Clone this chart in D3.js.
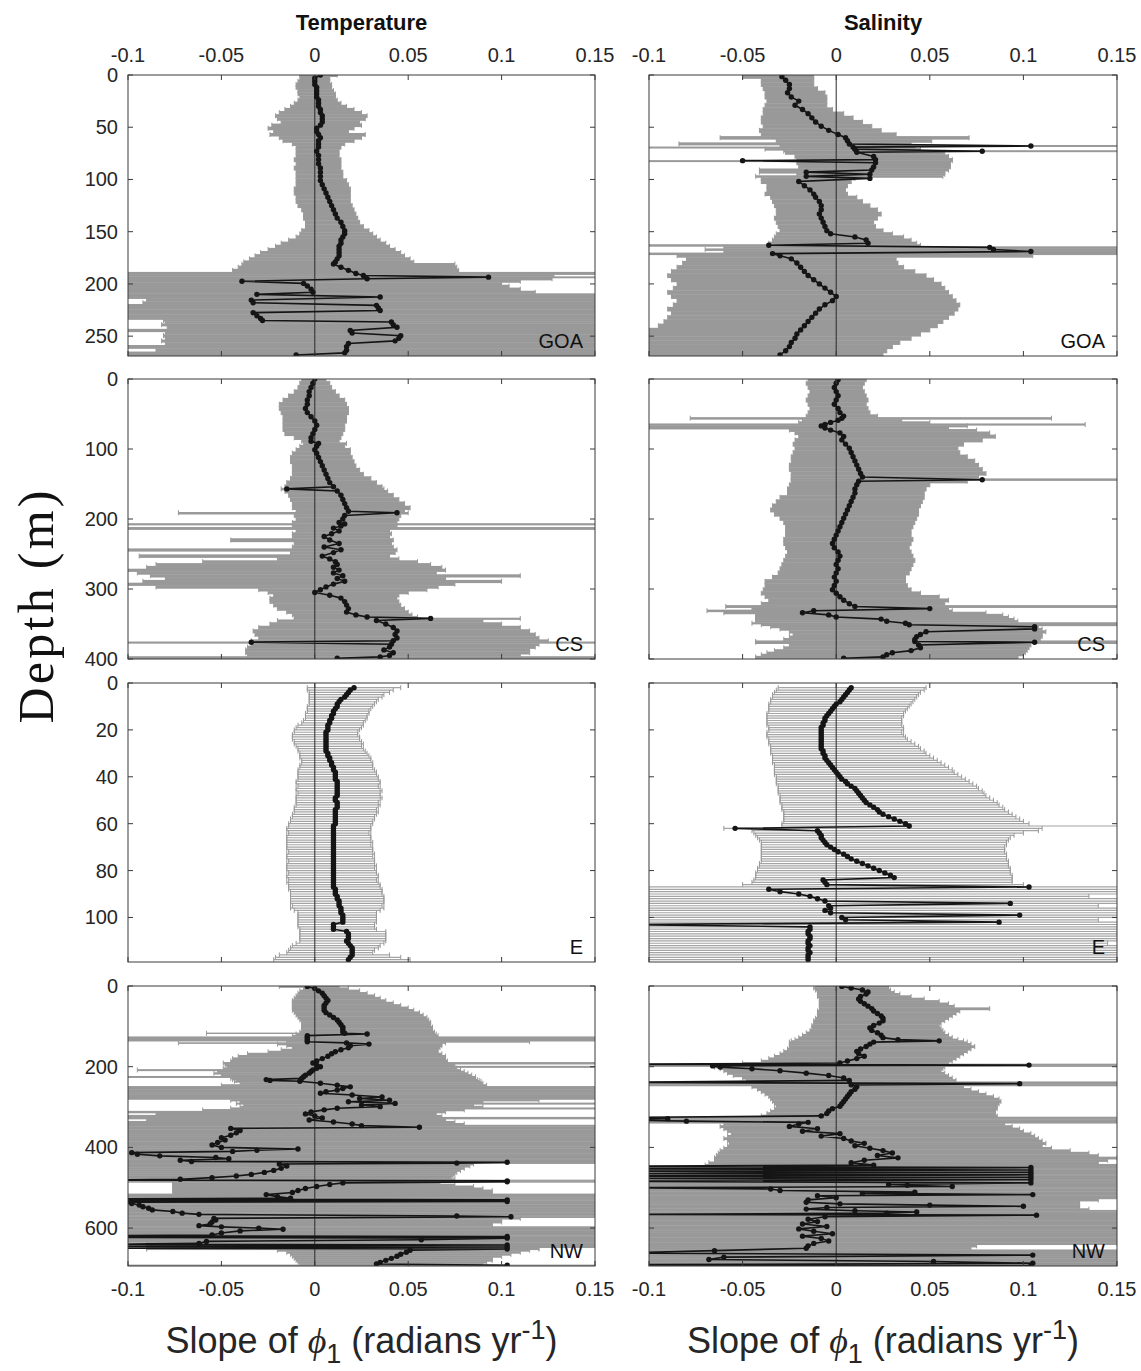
<!DOCTYPE html>
<html>
<head>
<meta charset="utf-8">
<script src="https://cdn.jsdelivr.net/npm/d3@7"></script>
<style>
body { margin: 0; background: #fff; }
svg text { font-family: "Liberation Sans", Arial, sans-serif; fill: #262626; }
</style>
</head>
<body>
<svg id="fig" width="1141" height="1371"></svg>
<script>
// each row: [depth (m), slope of phi1, lower bound, upper bound]
var tempGOA = [
[0,0.003,-0.008,0.012],[3,0.000,-0.008,0.008],[6,0.000,-0.009,0.008],[9,0.000,-0.010,0.009],
[12,0.001,-0.010,0.009],[15,0.001,-0.009,0.010],[18,0.001,-0.009,0.011],[21,0.001,-0.008,0.011],
[24,0.002,-0.009,0.012],[27,0.002,-0.011,0.014],[30,0.002,-0.013,0.017],[33,0.003,-0.016,0.021],
[36,0.003,-0.019,0.025],[39,0.004,-0.021,0.028],[42,0.004,-0.020,0.027],[45,0.004,-0.018,0.024],
[48,0.003,-0.023,0.025],[51,0.001,-0.025,0.021],[54,0.001,-0.022,0.018],[57,0.002,-0.024,0.027],
[60,0.003,-0.019,0.025],[63,0.002,-0.017,0.021],[66,0.002,-0.012,0.016],[69,0.002,-0.010,0.014],
[73,0.001,-0.010,0.013],[77,0.002,-0.010,0.013],[81,0.002,-0.011,0.014],[85,0.002,-0.010,0.014],
[89,0.003,-0.011,0.014],[93,0.003,-0.010,0.015],[97,0.003,-0.010,0.015],[101,0.003,-0.010,0.017],
[105,0.004,-0.010,0.018],[109,0.005,-0.011,0.019],[113,0.006,-0.011,0.019],[117,0.007,-0.010,0.019],
[121,0.008,-0.010,0.019],[125,0.009,-0.009,0.020],[129,0.010,-0.007,0.021],[133,0.011,-0.006,0.022],
[137,0.012,-0.006,0.023],[141,0.014,-0.005,0.024],[145,0.015,-0.005,0.026],[149,0.016,-0.007,0.029],
[152,0.016,-0.008,0.031],[155,0.015,-0.010,0.033],[158,0.014,-0.014,0.035],[161,0.014,-0.018,0.038],
[164,0.013,-0.021,0.040],[167,0.013,-0.025,0.043],[170,0.013,-0.029,0.046],[173,0.013,-0.032,0.048],
[176,0.012,-0.035,0.051],[179,0.011,-0.038,0.053],[181,0.010,-0.039,0.075],[184,0.014,-0.041,0.076],
[187,0.018,-0.044,0.077],[190,0.022,-0.110,0.160],[192,0.026,-0.110,0.128],[193.5,0.093,-0.110,0.160],
[195,0.028,-0.110,0.127],[197.5,-0.039,-0.110,0.110],[199.5,-0.006,-0.110,0.100],[202,-0.004,-0.110,0.104],
[205,-0.002,-0.110,0.110],[208,-0.001,-0.110,0.118],[210,-0.031,-0.110,0.160],[212.5,0.035,-0.110,0.160],
[215.5,-0.034,-0.090,0.160],[218,-0.033,-0.092,0.160],[220.5,0.033,-0.110,0.160],[223,0.034,-0.110,0.160],
[225.5,0.035,-0.110,0.160],[227.5,-0.033,-0.110,0.160],[230.5,-0.031,-0.110,0.160],[233,-0.029,-0.110,0.160],
[235,-0.028,-0.081,0.160],[236.5,0.041,-0.080,0.160],[239,0.042,-0.082,0.160],[241.5,0.044,-0.079,0.160],
[244.5,0.019,-0.110,0.160],[247,0.020,-0.080,0.160],[249.5,0.046,-0.081,0.160],[252,0.045,-0.080,0.160],
[254.5,0.043,-0.082,0.160],[257,0.018,-0.080,0.160],[260,0.017,-0.110,0.160],[263.5,0.017,-0.085,0.160],
[266,0.016,-0.110,0.160],[268,-0.010,-0.110,0.160]
];

var tempCS = [
[0,0.000,-0.007,0.006],[6,-0.001,-0.008,0.008],[12,-0.002,-0.009,0.009],[18,-0.003,-0.011,0.011],
[24,-0.003,-0.014,0.013],[30,-0.004,-0.017,0.016],[36,-0.004,-0.019,0.017],[42,-0.005,-0.019,0.018],
[48,-0.004,-0.018,0.018],[54,-0.002,-0.017,0.017],[60,0.000,-0.017,0.017],[66,0.001,-0.017,0.016],
[72,0.000,-0.017,0.016],[78,-0.001,-0.016,0.015],[84,-0.002,-0.011,0.014],[89,-0.002,-0.007,0.013],
[92,0.002,-0.006,0.017],[96,0.001,-0.008,0.016],[101,0.000,-0.010,0.019],[106,0.001,-0.012,0.019],
[112,0.002,-0.013,0.020],[118,0.003,-0.013,0.021],[124,0.004,-0.012,0.022],[130,0.005,-0.012,0.024],
[136,0.006,-0.012,0.026],[142,0.007,-0.013,0.030],[148,0.008,-0.015,0.033],[154,0.010,-0.016,0.036],
[157,-0.015,-0.018,0.037],[160,0.012,-0.016,0.039],[166,0.014,-0.014,0.042],[172,0.015,-0.013,0.045],
[178,0.016,-0.012,0.048],[184,0.017,-0.012,0.051],[189,0.018,-0.010,0.048],[191,0.044,-0.073,0.050],
[195,0.016,-0.011,0.046],[200,0.015,-0.010,0.045],[205,0.013,-0.012,0.044],[207,0.016,-0.110,0.160],
[210,0.014,-0.012,0.044],[213,0.010,-0.110,0.160],[217,0.013,-0.010,0.040],[221,0.009,-0.012,0.041],
[225,0.005,-0.012,0.040],[230,0.008,-0.045,0.042],[235,0.013,-0.011,0.041],[240,0.005,-0.012,0.042],
[244,0.014,-0.110,0.044],[248,0.010,-0.013,0.043],[253,0.004,-0.094,0.040],[257,0.008,-0.020,0.045],
[261,0.011,-0.060,0.055],[265,0.012,-0.085,0.062],[269,0.010,-0.090,0.068],[273,0.013,-0.110,0.070],
[277,0.010,-0.095,0.065],[281,0.015,-0.088,0.110],[285,0.012,-0.080,0.070],[289,0.016,-0.092,0.100],
[293,0.010,-0.110,0.075],[297,0.006,-0.085,0.066],[301,0.003,-0.030,0.060],[305,0.000,-0.025,0.050],
[309,0.008,-0.022,0.045],[313,0.014,-0.024,0.044],[318,0.016,-0.024,0.045],[323,0.017,-0.022,0.046],
[328,0.018,-0.020,0.048],[333,0.017,-0.015,0.050],[337,0.022,-0.012,0.052],[340,0.028,-0.011,0.055],
[342,0.062,-0.011,0.110],[345,0.033,-0.020,0.090],[350,0.038,-0.024,0.100],[355,0.042,-0.030,0.110],
[360,0.044,-0.033,0.115],[365,0.043,-0.032,0.118],[370,0.044,-0.030,0.120],[374,0.042,-0.034,0.125],
[376,-0.034,-0.110,0.160],[379,0.041,-0.034,0.120],[383,0.040,-0.036,0.118],[387,0.037,-0.037,0.115],
[391,0.042,-0.037,0.115],[395,0.040,-0.036,0.110],[397,0.035,-0.110,0.160],[399,0.012,-0.110,0.160]
];

var tempE = [
[2,.021,-.004,.046],[3,.019,-.004,.042],[4,.018,-.003,.040],[5,.017,-.003,.037],[6,.016,-.003,.036],
[7,.014,-.003,.034],[8,.013,-.003,.033],[9,.012,-.003,.032],[10,.012,-.004,.031],[11,.011,-.004,.030],
[12,.010,-.004,.029],[13,.010,-.005,.029],[14,.009,-.005,.028],[15,.009,-.005,.028],[16,.008,-.006,.027],
[17,.008,-.007,.026],[18,.007,-.009,.026],[19,.007,-.010,.025],[20,.007,-.011,.024],[21,.006,-.011,.023],
[22,.006,-.012,.023],[23,.006,-.012,.024],[24,.006,-.012,.024],[25,.006,-.011,.025],[26,.006,-.011,.026],
[27,.006,-.010,.025],[28,.006,-.009,.026],[29,.006,-.009,.027],[30,.007,-.008,.028],[31,.007,-.008,.029],
[32,.008,-.008,.030],[33,.008,-.007,.030],[34,.009,-.007,.031],[35,.009,-.008,.031],[36,.010,-.008,.031],
[37,.010,-.009,.032],[38,.011,-.009,.033],[39,.011,-.009,.033],[40,.011,-.009,.034],[41,.011,-.009,.034],
[42,.012,-.010,.035],[43,.012,-.010,.035],[44,.012,-.009,.034],[45,.012,-.010,.035],[46,.012,-.010,.036],
[47,.012,-.009,.035],[48,.012,-.010,.035],[49,.011,-.010,.036],[50,.011,-.010,.035],[51,.012,-.010,.034],
[52,.012,-.010,.035],[53,.012,-.011,.034],[54,.011,-.011,.033],[55,.011,-.011,.034],[56,.011,-.012,.033],
[57,.011,-.012,.032],[58,.011,-.013,.032],[59,.011,-.013,.031],[60,.011,-.014,.031],[61,.010,-.014,.030],
[62,.010,-.015,.030],[63,.010,-.015,.030],[64,.010,-.014,.029],[65,.010,-.015,.030],[66,.010,-.015,.030],
[67,.010,-.015,.030],[68,.010,-.015,.031],[69,.010,-.015,.030],[70,.010,-.015,.031],[71,.010,-.015,.031],
[72,.010,-.014,.031],[73,.010,-.015,.032],[74,.010,-.015,.031],[75,.010,-.015,.032],[76,.010,-.014,.032],
[77,.010,-.015,.032],[78,.010,-.015,.033],[79,.010,-.015,.032],[80,.010,-.015,.033],[81,.010,-.014,.033],
[82,.010,-.015,.034],[83,.010,-.015,.034],[84,.010,-.014,.033],[85,.010,-.015,.034],[86,.010,-.014,.035],
[87,.010,-.014,.035],[88,.011,-.014,.036],[89,.011,-.013,.036],[90,.011,-.013,.036],[91,.012,-.013,.037],
[92,.012,-.013,.037],[93,.013,-.013,.037],[94,.013,-.013,.037],[95,.013,-.012,.036],[96,.014,-.013,.037],
[97,.014,-.011,.035],[98,.014,-.009,.033],[99,.015,-.009,.033],[100,.015,-.009,.033],[101,.015,-.009,.033],
[102,.015,-.009,.033],[103,.010,-.009,.032],[104,.010,-.009,.032],[105,.010,-.008,.033],[106,.017,-.008,.038],
[107,.018,-.008,.038],[108,.018,-.008,.038],[109,.018,-.008,.038],[110,.017,-.008,.038],[111,.018,-.010,.037],
[112,.019,-.012,.035],[113,.020,-.013,.034],[114,.020,-.014,.032],[115,.020,-.015,.031],[116,.020,-.019,.040],
[117,.019,-.021,.046],[118,.018,-.022,.051]
];

var tempNW = [
[1,-0.004,-0.019,0.013],[6,0.000,-0.006,0.018],[12,0.002,-0.008,0.024],[18,0.004,-0.009,0.028],
[24,0.005,-0.010,0.032],[30,0.006,-0.011,0.035],[36,0.007,-0.012,0.038],[42,0.006,-0.012,0.042],
[48,0.005,-0.012,0.046],[54,0.005,-0.012,0.050],[60,0.005,-0.012,0.053],[66,0.006,-0.011,0.056],
[72,0.008,-0.010,0.058],[78,0.010,-0.009,0.060],[84,0.012,-0.008,0.061],[90,0.013,-0.007,0.062],
[96,0.014,-0.007,0.062],[102,0.015,-0.007,0.063],[108,0.015,-0.007,0.063],[114,0.015,-0.008,0.064],
[117,0.016,-0.058,0.064],[119,0.028,-0.010,0.065],[123,-0.004,-0.012,0.066],[127,-0.004,-0.110,0.160],
[131,-0.004,-0.110,0.160],[135,-0.004,-0.110,0.160],[138,-0.004,-0.015,0.115],[141,0.017,-0.073,0.070],
[144,0.029,-0.020,0.068],[148,0.019,-0.015,0.068],[153,0.018,-0.012,0.067],[158,0.014,-0.018,0.066],
[163,0.011,-0.025,0.066],[168,0.009,-0.036,0.068],[174,0.007,-0.041,0.070],[180,0.004,-0.044,0.070],
[186,0.001,-0.045,0.071],[191,-0.001,-0.049,0.160],[196,0.001,-0.048,0.075],[200,0.003,-0.047,0.160],
[204,0.001,-0.049,0.076],[208,-0.001,-0.095,0.078],[212,-0.002,-0.052,0.080],[216,-0.003,-0.054,0.082],
[221,-0.005,-0.050,0.084],[225,-0.006,-0.110,0.086],[229,-0.007,-0.045,0.086],[232,-0.026,-0.044,0.087],
[234,-0.024,-0.042,0.088],[236,-0.008,-0.043,0.089],[241,0.003,-0.040,0.090],[246,0.012,-0.050,0.092],
[250,0.019,-0.110,0.160],[254,0.015,-0.110,0.160],[258,0.012,-0.110,0.160],[262,0.006,-0.110,0.160],
[266,0.003,-0.110,0.160],[270,0.020,-0.110,0.160],[275,0.036,-0.110,0.160],[279,0.024,-0.110,0.160],
[283,0.040,-0.045,0.120],[287,0.018,-0.040,0.090],[291,0.043,-0.042,0.160],[295,0.025,-0.038,0.085],
[299,0.035,-0.040,0.090],[303,0.012,-0.045,0.160],[307,0.005,-0.060,0.080],[312,-0.002,-0.110,0.070],
[317,-0.005,-0.085,0.065],[322,0.000,-0.110,0.068],[327,0.004,-0.110,0.160],[332,-0.003,-0.090,0.070],
[337,0.010,-0.110,0.075],[342,0.020,-0.110,0.080],[346,0.025,-0.110,0.160],[350,0.056,-0.110,0.160],
[353,-0.045,-0.110,0.160],[358,-0.040,-0.110,0.160],[364,-0.042,-0.110,0.160],[370,-0.045,-0.110,0.160],
[376,-0.050,-0.110,0.160],[382,-0.048,-0.110,0.160],[388,-0.052,-0.110,0.160],[394,-0.055,-0.110,0.160],
[400,-0.050,-0.110,0.160],[404,-0.009,-0.110,0.160],[407,-0.031,-0.110,0.160],[410,-0.044,-0.110,0.160],
[413,-0.098,-0.110,0.160],[417,-0.095,-0.110,0.160],[421,-0.083,-0.110,0.160],[425,-0.053,-0.110,0.160],
[428,-0.046,-0.110,0.160],[432,-0.072,-0.110,0.160],[435,-0.066,-0.110,0.160],[437,0.103,-0.110,0.160],
[439,0.076,-0.110,0.160],[441,-0.019,-0.110,0.085],[446,-0.015,-0.110,0.083],[452,-0.018,-0.110,0.080],
[457,-0.022,-0.110,0.078],[462,-0.027,-0.110,0.076],[467,-0.034,-0.110,0.075],[471,-0.042,-0.110,0.074],
[475,-0.055,-0.110,0.073],[479,-0.072,-0.110,0.075],[481,-0.120,-0.110,0.160],[483,0.103,-0.110,0.160],
[485,0.103,-0.110,0.160],[488,0.015,-0.076,0.067],[492,0.008,-0.076,0.075],[497,0.001,-0.076,0.085],
[502,-0.005,-0.076,0.090],[507,-0.009,-0.076,0.095],[512,-0.012,-0.076,0.095],[517,-0.026,-0.110,0.160],
[522,-0.020,-0.110,0.160],[526,-0.013,-0.110,0.160],[528,-0.120,-0.110,0.160],[530,0.103,-0.110,0.160],
[532,-0.120,-0.110,0.160],[534,0.103,-0.110,0.160],[536,-0.120,-0.110,0.160],[539,-0.098,-0.110,0.160],
[543,-0.094,-0.110,0.160],[547,-0.092,-0.110,0.160],[551,-0.089,-0.110,0.160],[555,-0.087,-0.110,0.160],
[559,-0.076,-0.110,0.160],[563,-0.071,-0.110,0.160],[566,-0.062,-0.110,0.160],[570,0.076,-0.110,0.160],
[572,0.105,-0.110,0.160],[576,-0.054,-0.110,0.110],[580,-0.053,-0.110,0.100],[585,-0.055,-0.110,0.100],
[590,-0.056,-0.110,0.095],[594,-0.062,-0.110,0.095],[597,-0.050,-0.110,0.160],[600,-0.030,-0.110,0.160],
[603,-0.017,-0.110,0.160],[607,-0.040,-0.110,0.160],[612,-0.050,-0.110,0.160],[617,-0.055,-0.110,0.160],
[619,-0.120,-0.110,0.160],[621,0.103,-0.110,0.160],[623,-0.120,-0.110,0.160],[625,0.103,-0.110,0.160],
[629,0.057,-0.110,0.160],[633,-0.058,-0.110,0.160],[638,-0.062,-0.090,0.160],[640,-0.120,-0.090,0.160],
[642,0.103,-0.090,0.160],[645,-0.120,-0.090,0.160],[647,0.103,-0.090,0.160],[650,-0.120,-0.090,0.120],
[652,0.103,-0.090,0.120],[655,0.051,-0.020,0.115],[660,0.049,-0.015,0.110],[665,0.046,-0.013,0.105],
[670,0.044,-0.012,0.100],[675,0.041,-0.011,0.095],[680,0.038,-0.010,0.095],[685,0.035,-0.009,0.092],
[689,0.033,-0.008,0.090],[692,0.103,-0.110,0.160]
];

var salGOA = [
[1.6,-0.029,-0.050,-0.012],[5,-0.027,-0.040,-0.012],[9,-0.025,-0.040,-0.012],[13,-0.025,-0.039,-0.010],
[17,-0.026,-0.038,-0.006],[21,-0.024,-0.038,-0.005],[25,-0.020,-0.037,-0.005],[29,-0.022,-0.038,-0.005],
[33,-0.018,-0.039,-0.002],[37,-0.015,-0.039,0.004],[41,-0.013,-0.040,0.009],[45,-0.011,-0.040,0.014],
[49,-0.008,-0.039,0.019],[53,-0.004,-0.041,0.024],[57,0.001,-0.040,0.032],[60,0.005,-0.062,0.071],
[63,0.006,-0.032,0.051],[66,0.007,-0.084,0.040],[68,0.104,-0.030,0.160],[69,0.009,-0.110,0.042],
[71,0.010,-0.038,0.045],[73,0.078,-0.028,0.160],[74,0.011,-0.027,0.058],[78,0.020,-0.022,0.060],
[81,0.021,-0.021,0.062],[82,-0.050,-0.110,0.062],[84,0.021,-0.021,0.061],[88,0.020,-0.020,0.061],
[91,0.019,-0.041,0.060],[93,-0.016,-0.041,0.058],[95,0.018,-0.021,0.058],[97,-0.016,-0.043,0.057],
[99,0.018,-0.040,0.010],[102,-0.020,-0.040,0.008],[106,-0.017,-0.037,0.006],[110,-0.014,-0.037,0.005],
[114,-0.012,-0.038,0.006],[117,-0.011,-0.035,0.011],[121,-0.009,-0.034,0.014],[125,-0.008,-0.033,0.018],
[129,-0.008,-0.032,0.022],[133,-0.009,-0.032,0.024],[137,-0.008,-0.033,0.022],[141,-0.007,-0.032,0.020],
[145,-0.006,-0.031,0.021],[149,-0.005,-0.030,0.025],[152,-0.003,-0.032,0.030],[155,0.010,-0.033,0.036],
[158,0.016,-0.034,0.040],[161,0.017,-0.036,0.043],[163,-0.036,-0.110,0.045],[165,0.082,-0.060,0.160],
[167,0.084,-0.070,0.160],[169,0.104,-0.060,0.160],[171,-0.034,-0.110,0.160],[173,-0.030,-0.085,0.105],
[176,-0.024,-0.080,0.032],[180,-0.021,-0.082,0.033],[184,-0.019,-0.085,0.036],[188,-0.017,-0.088,0.042],
[192,-0.015,-0.090,0.048],[196,-0.012,-0.088,0.052],[200,-0.009,-0.085,0.056],[204,-0.006,-0.087,0.058],
[208,-0.003,-0.090,0.060],[212,0.000,-0.088,0.062],[216,-0.002,-0.085,0.064],[220,-0.006,-0.087,0.066],
[224,-0.009,-0.090,0.065],[228,-0.011,-0.088,0.063],[232,-0.013,-0.090,0.060],[236,-0.015,-0.092,0.057],
[240,-0.017,-0.095,0.054],[244,-0.019,-0.110,0.050],[248,-0.021,-0.110,0.045],[252,-0.022,-0.110,0.040],
[256,-0.024,-0.110,0.034],[260,-0.025,-0.110,0.030],[264,-0.027,-0.110,0.027],[268,-0.030,-0.110,0.025]
];

var salCS = [
[1,0.001,-0.015,0.016],[6,0.000,-0.016,0.015],[12,-0.001,-0.015,0.014],[18,0.000,-0.014,0.015],
[24,0.001,-0.015,0.016],[30,0.000,-0.016,0.017],[36,-0.001,-0.015,0.016],[42,0.001,-0.014,0.017],
[48,0.002,-0.015,0.018],[53,0.004,-0.016,0.022],[56,0.003,-0.078,0.115],[59,0.001,-0.018,0.035],
[62,-0.003,-0.020,0.050],[65,-0.006,-0.110,0.133],[67,-0.008,-0.110,0.070],[70,-0.006,-0.110,0.060],
[73,-0.003,-0.025,0.075],[77,0.002,-0.022,0.082],[82,0.004,-0.020,0.085],[87,0.003,-0.022,0.078],
[93,0.005,-0.023,0.068],[99,0.007,-0.022,0.065],[105,0.008,-0.023,0.066],[111,0.009,-0.024,0.070],
[117,0.010,-0.024,0.074],[123,0.011,-0.025,0.076],[129,0.012,-0.025,0.078],[135,0.013,-0.024,0.080],
[140,0.014,-0.024,0.076],[144,0.078,-0.024,0.160],[146,0.012,-0.024,0.070],[151,0.011,-0.025,0.050],
[157,0.010,-0.026,0.048],[163,0.010,-0.026,0.047],[169,0.009,-0.030,0.047],[175,0.008,-0.032,0.046],
[181,0.007,-0.034,0.045],[187,0.006,-0.035,0.044],[193,0.005,-0.033,0.044],[199,0.004,-0.030,0.043],
[205,0.003,-0.028,0.042],[211,0.002,-0.027,0.041],[217,0.001,-0.027,0.040],[223,0.000,-0.027,0.040],
[229,-0.001,-0.028,0.041],[235,-0.002,-0.028,0.040],[241,-0.001,-0.027,0.039],[247,0.001,-0.026,0.040],
[253,0.002,-0.027,0.041],[259,0.001,-0.028,0.042],[265,0.000,-0.029,0.041],[271,0.001,-0.030,0.040],
[277,0.000,-0.031,0.039],[283,-0.001,-0.034,0.037],[289,0.000,-0.038,0.037],[295,-0.001,-0.038,0.038],
[301,-0.002,-0.039,0.040],[306,0.000,-0.040,0.045],[311,0.002,-0.038,0.055],[316,0.004,-0.036,0.060],
[321,0.007,-0.040,0.058],[325,0.010,-0.059,0.160],[328,0.050,-0.045,0.060],[331,-0.012,-0.069,0.062],
[334,-0.018,-0.060,0.080],[337,-0.004,-0.043,0.089],[340,0.000,-0.043,0.092],[343,0.024,-0.043,0.095],
[346,0.027,-0.043,0.097],[349,0.037,-0.045,0.160],[351,0.039,-0.040,0.160],[354,0.106,-0.035,0.108],
[357,0.106,-0.030,0.110],[361,0.048,-0.025,0.112],[365,0.045,-0.023,0.110],[368,0.043,-0.025,0.110],
[372,0.042,-0.028,0.109],[375,0.042,-0.043,0.160],[376,0.106,-0.043,0.160],[380,0.044,-0.025,0.104],
[384,0.045,-0.028,0.103],[388,0.040,-0.033,0.102],[391,0.030,-0.037,0.101],[394,0.027,-0.040,0.100],
[397,0.025,-0.043,0.097],[399,0.004,-0.043,0.097]
];

var salE = [
[2,.008,-.031,.048],[3,.007,-.032,.047],[4,.006,-.033,.045],[5,.005,-.034,.044],[6,.004,-.034,.043],
[7,.003,-.035,.042],[8,.002,-.035,.041],[9,.000,-.036,.040],[10,-.001,-.036,.039],[11,-.002,-.036,.038],
[12,-.003,-.036,.037],[13,-.004,-.037,.036],[14,-.005,-.037,.036],[15,-.006,-.037,.035],[16,-.006,-.037,.035],
[17,-.007,-.037,.035],[18,-.007,-.037,.035],[19,-.008,-.036,.036],[20,-.008,-.036,.036],[21,-.008,-.037,.035],
[22,-.008,-.037,.036],[23,-.008,-.037,.037],[24,-.008,-.036,.038],[25,-.008,-.036,.040],[26,-.008,-.036,.042],
[27,-.008,-.035,.044],[28,-.008,-.035,.045],[29,-.007,-.035,.047],[30,-.007,-.035,.048],[31,-.006,-.034,.050],
[32,-.006,-.034,.052],[33,-.005,-.034,.054],[34,-.004,-.034,.056],[35,-.003,-.033,.058],[36,-.002,-.033,.060],
[37,-.001,-.033,.062],[38,.000,-.033,.063],[39,.001,-.033,.065],[40,.002,-.032,.067],[41,.003,-.032,.069],
[42,.005,-.032,.071],[43,.006,-.032,.073],[44,.008,-.031,.075],[45,.010,-.031,.076],[46,.011,-.031,.078],
[47,.012,-.031,.079],[48,.013,-.030,.080],[49,.014,-.030,.082],[50,.015,-.030,.084],[51,.016,-.030,.086],
[52,.018,-.029,.087],[53,.020,-.029,.089],[54,.022,-.029,.090],[55,.023,-.028,.092],[56,.025,-.028,.094],
[57,.028,-.028,.096],[58,.031,-.028,.098],[59,.034,-.028,.100],[60,.037,-.029,.103],[61,.039,-.029,.160],
[62,-.054,-.060,.110],[63,-.010,-.045,.108],[64,-.009,-.044,.100],[65,-.008,-.043,.095],[66,-.008,-.042,.093],
[67,-.007,-.041,.092],[68,-.006,-.040,.091],[69,-.005,-.040,.091],[70,-.003,-.040,.090],[71,-.001,-.040,.090],
[72,.001,-.040,.090],[73,.004,-.040,.091],[74,.006,-.040,.091],[75,.008,-.040,.091],[76,.011,-.040,.092],
[77,.014,-.041,.092],[78,.017,-.041,.092],[79,.020,-.042,.093],[80,.023,-.042,.093],[81,.026,-.043,.093],
[82,.029,-.043,.094],[83,.031,-.043,.094],[84,-.007,-.044,.094],[85,-.006,-.045,.094],[86,-.005,-.050,.100],
[87,.103,-.110,.160],[88,-.036,-.110,.160],[89,-.030,-.110,.160],[90,-.020,-.110,.160],[91,-.014,-.110,.135],
[92,-.010,-.110,.160],[93,-.006,-.110,.160],[94,.093,-.110,.160],[95,-.004,-.110,.140],[96,-.003,-.110,.160],
[97,-.006,-.110,.160],[98,-.003,-.110,.160],[99,.098,-.110,.160],[100,.003,-.110,.160],[101,.005,-.110,.140],
[102,.087,-.110,.160],[103,-.120,-.110,.160],[104,-.014,-.110,.160],[105,-.014,-.110,.160],[106,-.015,-.110,.160],
[107,-.015,-.110,.150],[108,-.014,-.110,.160],[109,-.014,-.110,.160],[110,-.015,-.110,.160],[111,-.015,-.110,.145],
[112,-.014,-.110,.160],[113,-.015,-.110,.160],[114,-.015,-.110,.160],[115,-.014,-.110,.160],[116,-.015,-.110,.160],
[117,-.015,-.110,.160],[118,-.015,-.110,.160]
];

var salNW = [
[1,0.003,-0.011,0.028],[5,0.008,-0.012,0.028],[10,0.014,-0.011,0.029],[15,0.017,-0.010,0.031],
[20,0.016,-0.010,0.034],[26,0.013,-0.010,0.040],[32,0.012,-0.009,0.047],[38,0.013,-0.009,0.055],
[44,0.015,-0.009,0.060],[50,0.017,-0.009,0.063],[56,0.019,-0.009,0.082],[62,0.020,-0.010,0.066],
[68,0.022,-0.010,0.064],[74,0.024,-0.010,0.062],[80,0.025,-0.011,0.060],[86,0.025,-0.012,0.058],
[92,0.023,-0.012,0.056],[98,0.020,-0.013,0.055],[104,0.018,-0.013,0.056],[110,0.019,-0.014,0.057],
[116,0.022,-0.016,0.058],[122,0.024,-0.018,0.060],[128,0.025,-0.020,0.062],[133,0.033,-0.022,0.065],
[136,0.055,-0.024,0.068],[139,0.020,-0.025,0.070],[144,0.018,-0.025,0.072],[150,0.016,-0.025,0.074],
[156,0.013,-0.026,0.072],[162,0.011,-0.028,0.070],[168,0.012,-0.030,0.068],[174,0.015,-0.033,0.066],
[180,0.011,-0.036,0.064],[186,0.006,-0.040,0.062],[191,0.002,-0.050,0.060],[194,-0.120,-0.110,0.160],
[196,0.103,-0.110,0.160],[198,-0.066,-0.110,0.160],[201,-0.062,-0.065,0.058],[205,-0.045,-0.062,0.057],
[210,-0.030,-0.060,0.056],[216,-0.016,-0.058,0.058],[222,-0.004,-0.055,0.060],[228,0.004,-0.050,0.062],
[234,0.007,-0.048,0.064],[239,-0.120,-0.110,0.160],[242,0.098,-0.110,0.160],[245,0.008,-0.110,0.160],
[250,0.011,-0.045,0.068],[256,0.010,-0.042,0.072],[262,0.008,-0.040,0.076],[268,0.007,-0.038,0.080],
[274,0.006,-0.036,0.084],[280,0.005,-0.035,0.087],[286,0.004,-0.034,0.088],[292,0.003,-0.033,0.087],
[298,0.002,-0.032,0.086],[304,-0.002,-0.033,0.086],[310,-0.004,-0.035,0.085],[316,-0.005,-0.037,0.085],
[322,-0.008,-0.040,0.086],[326,-0.120,-0.110,0.160],[329,-0.090,-0.110,0.160],[332,-0.120,-0.110,0.160],
[335,-0.080,-0.110,0.160],[338,-0.015,-0.110,0.160],[342,-0.020,-0.060,0.090],[348,-0.025,-0.062,0.094],
[354,-0.010,-0.060,0.098],[360,-0.018,-0.058,0.100],[366,0.002,-0.056,0.104],[372,-0.008,-0.058,0.106],
[378,0.004,-0.060,0.108],[384,0.008,-0.058,0.110],[390,0.015,-0.057,0.112],[396,0.010,-0.058,0.110],
[402,0.018,-0.060,0.115],[408,0.025,-0.062,0.125],[414,0.030,-0.063,0.135],[420,0.022,-0.064,0.140],
[426,0.033,-0.065,0.150],[432,0.015,-0.065,0.145],[438,0.008,-0.068,0.140],[444,0.020,-0.070,0.160],
[447,-0.120,-0.110,0.160],[450,0.104,-0.110,0.160],[453,-0.120,-0.110,0.160],[456,0.104,-0.110,0.160],
[459,-0.120,-0.110,0.160],[462,0.104,-0.110,0.160],[465,-0.120,-0.110,0.160],[468,0.104,-0.110,0.160],
[471,-0.120,-0.110,0.160],[474,0.104,-0.110,0.160],[477,-0.120,-0.110,0.160],[480,0.104,-0.110,0.160],
[484,-0.120,-0.110,0.160],[488,0.104,-0.110,0.160],[492,0.028,-0.110,0.160],[494,0.038,-0.110,0.160],
[497,0.062,-0.110,0.160],[500,-0.120,-0.110,0.160],[503,-0.035,-0.110,0.160],[507,-0.030,-0.110,0.160],
[511,0.042,-0.110,0.160],[514,0.014,-0.110,0.160],[517,0.105,-0.110,0.160],[520,-0.010,-0.110,0.160],
[525,0.000,-0.110,0.160],[530,-0.015,-0.110,0.140],[536,-0.016,-0.110,0.130],[540,0.002,-0.110,0.130],
[543,0.050,-0.110,0.130],[546,0.100,-0.110,0.130],[549,-0.005,-0.110,0.130],[553,-0.016,-0.110,0.135],
[557,0.010,-0.110,0.160],[560,0.043,-0.110,0.160],[563,0.027,-0.110,0.160],[566,-0.120,-0.110,0.160],
[568,0.107,-0.110,0.160],[572,-0.006,-0.110,0.160],[578,-0.015,-0.110,0.160],[584,-0.010,-0.110,0.160],
[590,-0.018,-0.110,0.160],[596,-0.005,-0.110,0.160],[602,-0.020,-0.110,0.150],[608,-0.012,-0.110,0.150],
[614,-0.002,-0.110,0.150],[620,-0.018,-0.110,0.150],[626,-0.008,-0.110,0.150],[632,-0.004,-0.110,0.150],
[638,-0.012,-0.110,0.150],[644,-0.015,-0.110,0.075],[650,-0.016,-0.110,0.072],[656,-0.065,-0.110,0.160],
[662,-0.120,-0.110,0.160],[667,0.105,-0.110,0.160],[672,-0.060,-0.110,0.160],[678,-0.068,-0.110,0.160],
[683,0.052,-0.110,0.160],[687,0.105,-0.110,0.160],[691,-0.120,-0.110,0.160],[693,0.104,-0.110,0.160]
];

var colTitles = ["Temperature", "Salinity"];
var regionNames = ["GOA", "CS", "E", "NW"];
var depthMax = [269, 400, 119, 694];
var depthTicks = [[0, 50, 100, 150, 200, 250], [0, 100, 200, 300, 400], [0, 20, 40, 60, 80, 100], [0, 200, 400, 600]];
var slopeTicks = [-0.1, -0.05, 0, 0.05, 0.1, 0.15];
var series = [[tempGOA, tempCS, tempE, tempNW], [salGOA, salCS, salE, salNW]];

var svg = d3.select("#fig");
var colX = [[128, 595], [649, 1117]];
var rowY = [[75, 356], [379, 659], [683, 962], [986, 1266]];
var thinRows = [false, false, true, false];
var defs = svg.append("defs");

regionNames.forEach(function (name, r) {
    [0, 1].forEach(function (c) {
        var x = d3.scaleLinear().domain([-0.1, 0.15]).range(colX[c]);
        var y = d3.scaleLinear().domain([0, depthMax[r]]).range(rowY[r]);
        var rows = series[c][r].slice().sort(function (a, b) { return a[0] - b[0]; });
        var id = "clip" + r + c;
        defs.append("clipPath").attr("id", id).append("rect")
            .attr("x", colX[c][0]).attr("y", rowY[r][0])
            .attr("width", colX[c][1] - colX[c][0]).attr("height", rowY[r][1] - rowY[r][0]);

        var g = svg.append("g");
        var plot = g.append("g").attr("clip-path", "url(#" + id + ")");

        // error bars
        var bars = plot.append("g");
        rows.forEach(function (d, i) {
            var yc = y(d[0]);
            if (thinRows[r]) {
                bars.append("line")
                    .attr("x1", x(d[2])).attr("x2", x(d[3]))
                    .attr("y1", yc).attr("y2", yc)
                    .attr("stroke", "#a4a4a4").attr("stroke-width", 1.2);
            } else {
                var yp = i > 0 ? y(rows[i - 1][0]) : null,
                    yn = i < rows.length - 1 ? y(rows[i + 1][0]) : null;
                var top = yp === null ? yc - (yn - yc) / 2 : (yp + yc) / 2;
                var bot = yn === null ? yc + (yc - yp) / 2 : (yc + yn) / 2;
                bars.append("rect")
                    .attr("x", x(d[2])).attr("width", x(d[3]) - x(d[2]))
                    .attr("y", top).attr("height", bot - top + 0.4)
                    .attr("fill", "#999");
            }
            [d[2], d[3]].forEach(function (v) {
                bars.append("line")
                    .attr("x1", x(v)).attr("x2", x(v))
                    .attr("y1", yc - 2.5).attr("y2", yc + 2.5)
                    .attr("stroke", "#999").attr("stroke-width", 1);
            });
        });

        // zero line
        plot.append("line")
            .attr("x1", x(0)).attr("x2", x(0))
            .attr("y1", rowY[r][0]).attr("y2", rowY[r][1])
            .attr("stroke", "#2a2a2a").attr("stroke-width", 1);

        // slope line with markers
        var line = d3.line().x(function (d) { return x(d[1]); }).y(function (d) { return y(d[0]); });
        plot.append("path").datum(rows)
            .attr("d", line)
            .attr("fill", "none").attr("stroke", "#151515").attr("stroke-width", 1.6);
        plot.selectAll("circle.pt").data(rows.filter(function (d) { return d[1] >= -0.1 && d[1] <= 0.15; }))
            .enter().append("circle")
            .attr("cx", function (d) { return x(d[1]); })
            .attr("cy", function (d) { return y(d[0]); })
            .attr("r", 2.7).attr("fill", "#151515");

        // box and inward ticks
        g.append("rect")
            .attr("x", colX[c][0]).attr("y", rowY[r][0])
            .attr("width", colX[c][1] - colX[c][0]).attr("height", rowY[r][1] - rowY[r][0])
            .attr("fill", "none").attr("stroke", "#3a3a3a").attr("stroke-width", 1);
        slopeTicks.forEach(function (t) {
            g.append("line").attr("x1", x(t)).attr("x2", x(t))
                .attr("y1", rowY[r][0]).attr("y2", rowY[r][0] + 5).attr("stroke", "#3a3a3a");
            g.append("line").attr("x1", x(t)).attr("x2", x(t))
                .attr("y1", rowY[r][1]).attr("y2", rowY[r][1] - 5).attr("stroke", "#3a3a3a");
        });
        depthTicks[r].forEach(function (t) {
            g.append("line").attr("x1", colX[c][0]).attr("x2", colX[c][0] + 5)
                .attr("y1", y(t)).attr("y2", y(t)).attr("stroke", "#3a3a3a");
            g.append("line").attr("x1", colX[c][1]).attr("x2", colX[c][1] - 5)
                .attr("y1", y(t)).attr("y2", y(t)).attr("stroke", "#3a3a3a");
        });

        if (c === 0) {
            g.selectAll("text.dt").data(depthTicks[r]).enter().append("text")
                .attr("x", colX[c][0] - 10).attr("y", function (t) { return y(t) + 7; })
                .attr("text-anchor", "end").attr("font-size", 20)
                .text(function (t) { return t; });
        }
        if (r === 0 || r === 3) {
            var ty = r === 0 ? 62 : 1296;
            g.selectAll("text.st").data(slopeTicks).enter().append("text")
                .attr("x", function (t) { return x(t); }).attr("y", ty)
                .attr("text-anchor", "middle").attr("font-size", 20)
                .text(function (t) { return t; });
        }
        if (r === 0) {
            g.append("text").attr("x", (colX[c][0] + colX[c][1]) / 2).attr("y", 30)
                .attr("text-anchor", "middle").attr("font-size", 22).attr("font-weight", "bold")
                .style("fill", "#111").text(colTitles[c]);
        }

        g.append("text").attr("x", colX[c][1] - 12).attr("y", rowY[r][1] - 8)
            .attr("text-anchor", "end").attr("font-size", 20).style("fill", "#111")
            .text(name);

        if (r === 3) {
            var xl = g.append("text").attr("x", (colX[c][0] + colX[c][1]) / 2).attr("y", 1353)
                .attr("text-anchor", "middle").attr("font-size", 36);
            xl.append("tspan").text("Slope of ");
            xl.append("tspan").style("font-family", "'Liberation Serif', serif").style("font-style", "italic").text("\u03d5");
            xl.append("tspan").attr("font-size", 27).attr("dy", 10).text("1");
            xl.append("tspan").attr("dy", -10).text(" (radians yr");
            xl.append("tspan").attr("font-size", 27).attr("dy", -14).text("-1");
            xl.append("tspan").attr("dy", 14).text(")");
        }
    });
});

svg.append("text")
    .attr("transform", "translate(53,607) rotate(-90)")
    .attr("text-anchor", "middle").attr("font-size", 50)
    .attr("textLength", 233).attr("lengthAdjust", "spacing")
    .style("font-family", "'Liberation Serif', 'DejaVu Serif', serif").style("fill", "#111")
    .text("Depth (m)");
</script>
</body>
</html>
